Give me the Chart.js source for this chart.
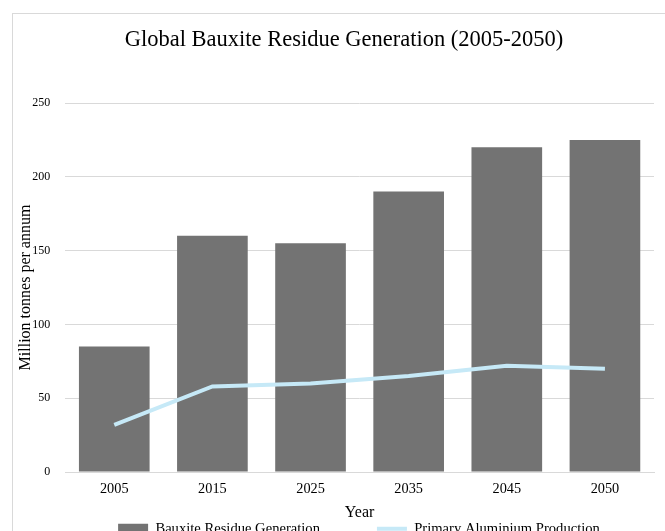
<!DOCTYPE html>
<html>
<head>
<meta charset="utf-8">
<script src="https://cdn.jsdelivr.net/npm/chart.js@4.4.1/dist/chart.umd.min.js"></script>
<style>
    html, body { margin: 0; padding: 0; background: #fff; overflow: hidden; }
    #wrap { width: 665px; height: 604px; position: relative; }
</style>
</head>
<body>
<div id="wrap"><canvas id="chart"></canvas></div>
<script>
const years = ["2005", "2015", "2025", "2035", "2045", "2050"];
const residue = [85, 160, 155, 190, 220, 225];
const aluminium = [32, 58, 60, 65, 72, 70];
const yTicks = [0, 50, 100, 150, 200, 250];

const FONT = "'Liberation Serif', 'Times New Roman', serif";

// light grey frame around the chart, runs off the right and bottom edge
const framePlugin = {
    id: "frame",
    beforeDraw(chart) {
        const ctx = chart.ctx;
        ctx.save();
        ctx.fillStyle = "#fff";
        ctx.fillRect(0, 0, chart.width, chart.height);
        ctx.strokeStyle = "#d9d9d9";
        ctx.lineWidth = 1;
        ctx.strokeRect(12.5, 13.5, 700, 700);
        ctx.restore();
    },
};

// the legend needs a wide gap between items but sits close under the axis title,
// and both legend and title sit a bit right of the plot centre
const boxShift = {
    id: "boxShift",
    afterLayout(chart) {
        const lg = chart.legend;
        lg.left += 25;
        lg.right += 25;
        lg.top -= 58;
        lg.bottom -= 58;
        const tb = chart.titleBlock;
        tb.left += 10;
        tb.right += 10;
    },
};

const ctx = document.getElementById("chart").getContext("2d");
new Chart(ctx, {
    type: "bar",
    data: {
        labels: years,
        datasets: [
            {
                type: "line",
                label: "Primary Aluminium Production",
                data: aluminium,
                borderColor: "#c6e9f7",
                backgroundColor: "#c6e9f7",
                borderWidth: 4,
                pointRadius: 0,
                pointStyle: "line",
                tension: 0,
                order: 0,
            },
            {
                label: "Bauxite Residue Generation",
                data: residue,
                backgroundColor: "#737373",
                pointStyle: "rect",
                categoryPercentage: 0.72,
                barPercentage: 1,
                order: 1,
            },
        ],
    },
    options: {
        responsive: true,
        maintainAspectRatio: false,
        animation: false,
        layout: { padding: { left: 14, right: 11, top: 20, bottom: 0 } },
        plugins: {
            title: {
                display: true,
                text: "Global Bauxite Residue Generation (2005-2050)",
                color: "#000",
                font: { family: FONT, size: 22.5, weight: "normal" },
                padding: { top: 6.5, bottom: 49.5 },
            },
            legend: {
                position: "bottom",
                reverse: true,
                labels: {
                    color: "#000",
                    font: { family: FONT, size: 14.6 },
                    usePointStyle: true,
                    pointStyleWidth: 30,
                    boxHeight: 10,
                    padding: 57,
                },
            },
            tooltip: { enabled: false },
        },
        scales: {
            x: {
                grid: { display: false, drawTicks: false },
                border: { color: "#d9d9d9" },
                ticks: { color: "#000", font: { family: FONT, size: 14.3 }, padding: 9 },
                title: {
                    display: true,
                    text: "Year",
                    color: "#000",
                    font: { family: FONT, size: 16 },
                    padding: { top: -4, bottom: 0 },
                },
            },
            y: {
                min: 0,
                max: 250,
                afterBuildTicks(axis) {
                    axis.ticks = yTicks.map((v) => ({ value: v }));
                },
                grid: { color: "#d9d9d9", drawTicks: false },
                border: { display: false },
                ticks: { color: "#000", font: { family: FONT, size: 12 }, padding: 15 },
                title: {
                    display: true,
                    text: "Million tonnes per annum",
                    color: "#000",
                    font: { family: FONT, size: 16 },
                    padding: { top: 2, bottom: -18 },
                },
            },
        },
    },
    plugins: [framePlugin, boxShift],
});
</script>
</body>
</html>
